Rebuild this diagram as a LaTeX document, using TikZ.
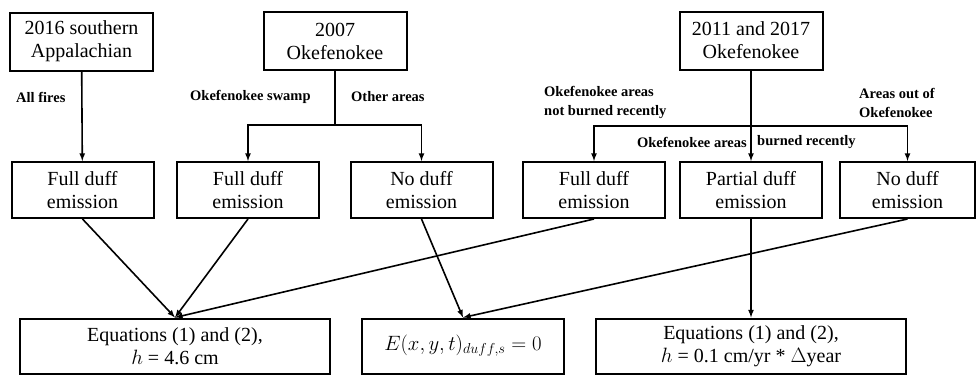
\documentclass[tikz,border=0pt]{standalone}
\usepackage{fontspec}
\setmainfont{Liberation Serif}
\usetikzlibrary{arrows,positioning}

\begin{document}
\begin{tikzpicture}[x=1pt,y=-1pt,
    box/.style={draw,line width=2pt,align=center,inner sep=0pt,
      font=\fontsize{20}{23}\selectfont},
    topbox/.style={box,minimum width=143pt,minimum height=58pt},
    midbox/.style={box,minimum width=142pt,minimum height=56pt},
    resbox/.style={box,minimum height=55pt},
    lbl/.style={font=\fontsize{14.5}{19}\selectfont\bfseries,align=left,inner sep=0pt},
    link/.style={line width=1.6pt},
    arr/.style={link,-latex}]
  \useasboundingbox (0,0) rectangle (976,375);

  \node[topbox] (app) at (81.5,41.5) {2016 southern\\Appalachian};
  \node[topbox] (oke07) at (335,41) {2007\\Okefenokee};
  \node[topbox] (oke11) at (751,40.5) {2011 and 2017\\Okefenokee};

  \node[midbox] (fullA) at (82.5,190) {Full duff\\emission};
  \node[midbox] (fullB) at (248,190) {Full duff\\emission};
  \node[midbox] (noB) at (421.5,190) {No duff\\emission};
  \node[midbox] (fullC) at (594,190) {Full duff\\emission};
  \node[midbox] (partC) at (751,190) {Partial duff\\emission};
  \node[midbox,minimum width=135pt] (noC) at (907.5,190) {No duff\\emission};

  \node[resbox,minimum width=310pt] (eqfull) at (175,346) {Equations (1) and (2),\\$h$ = 4.6 cm};
  \node[resbox,minimum width=202pt] (eqzero) at (463,346) {$E(x,y,t)_{duff,s}=0$};
  \node[resbox,minimum width=310pt] (eqpart) at (751,346) {Equations (1) and (2),\\$h$ = 0.1 cm/yr * $\Delta$year};

  \draw[arr] (app) -- (fullA);
  \draw[link] (oke07.south) -- (oke07.south |- 0,125) coordinate (j07);
  \draw[arr] (j07) -| (fullB.north);
  \draw[arr] (j07) -| (noB.north);
  \draw[arr] (oke11) -- (partC);
  \coordinate (j11) at (oke11.south |- 0,126);
  \draw[arr] (j11) -| (fullC.north);
  \draw[arr] (j11) -| (noC.north);

  \draw[arr] (fullA.south) -- (eqfull.north);
  \draw[arr] (fullB.south) -- (eqfull.north);
  \draw[arr] (fullC.south) -- (eqfull.north);
  \draw[arr] (noB.south) -- (eqzero.north);
  \draw[arr] (noC.south) -- (eqzero.north);
  \draw[arr] (partC) -- (eqpart);

  \node[lbl,anchor=west] (lfires) at (16,97) {All fires};
  \node[lbl,anchor=west] (lswamp) at (190,97) {Okefenokee swamp};
  \node[lbl,anchor=west] (lother) at (351,97) {Other areas};
  \node[lbl,anchor=west] (lnot) at (544,102.5) {Okefenokee areas\\not burned recently};
  \node[lbl,anchor=west] (lout) at (859,102.5) {Areas out of\\Okefenokee};
  \node[lbl,anchor=east] (lburn) at (747,142) {Okefenokee areas};
  \node[lbl,anchor=west] (lburn2) at (757,142) {burned recently};
\end{tikzpicture}
\end{document}
